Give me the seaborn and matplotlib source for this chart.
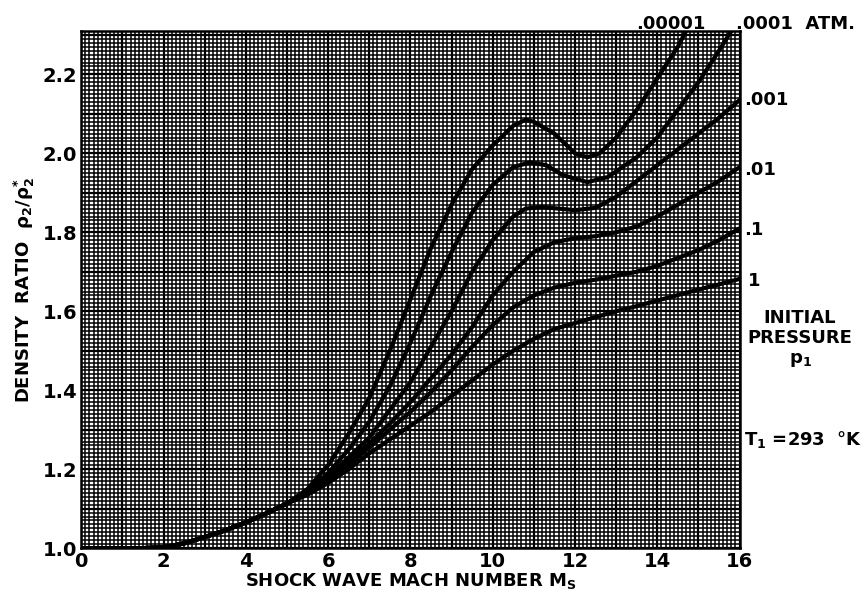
import numpy as np
import pandas as pd
import matplotlib
matplotlib.use("Agg")
import matplotlib.pyplot as plt
import seaborn as sns

# Mach number and density ratio for each initial pressure
mach_common = [0, 1, 1.5, 2, 2.5, 3, 3.5, 4, 4.5, 5]
rho_common = [1.0, 1.0, 1.0, 1.002, 1.012, 1.028, 1.045, 1.065, 1.088, 1.113]

mach_p5 = [5.5, 6, 6.5, 7, 7.5, 8, 8.5, 9, 9.5, 10, 10.5, 10.8, 11, 11.5, 12, 12.3, 12.6, 13, 13.5, 14, 14.5, 14.7]
rho_p5 = [1.15, 1.21, 1.29, 1.38, 1.50, 1.63, 1.76, 1.87, 1.96, 2.02, 2.07, 2.085, 2.08, 2.05, 2.0, 1.99, 2.0, 2.04, 2.11, 2.19, 2.27, 2.31]

mach_p4 = [5.5, 6, 6.5, 7, 7.5, 8, 8.5, 9, 9.5, 10, 10.5, 10.9, 11.3, 11.7, 12.3, 12.8, 13.5, 14, 14.5, 15, 15.5, 15.8]
rho_p4 = [1.145, 1.19, 1.25, 1.32, 1.41, 1.52, 1.64, 1.75, 1.85, 1.92, 1.965, 1.977, 1.97, 1.945, 1.927, 1.94, 1.99, 2.04, 2.11, 2.18, 2.26, 2.31]

mach_p3 = [5.5, 6, 6.5, 7, 7.5, 8, 8.5, 9, 9.5, 10, 10.5, 10.8, 11.2, 11.6, 12, 12.5, 13, 13.5, 14, 14.5, 15, 15.5, 16]
rho_p3 = [1.142, 1.18, 1.23, 1.28, 1.35, 1.42, 1.51, 1.60, 1.70, 1.78, 1.84, 1.86, 1.864, 1.86, 1.856, 1.862, 1.89, 1.93, 1.97, 2.01, 2.05, 2.09, 2.135]

mach_p2 = [5.5, 6, 6.5, 7, 7.5, 8, 8.5, 9, 9.5, 10, 10.5, 11, 11.5, 12, 12.5, 13, 13.5, 14, 14.5, 15, 15.5, 16]
rho_p2 = [1.14, 1.175, 1.22, 1.265, 1.315, 1.37, 1.43, 1.49, 1.56, 1.64, 1.70, 1.75, 1.775, 1.785, 1.79, 1.80, 1.815, 1.84, 1.87, 1.90, 1.93, 1.965]

mach_p1 = [5.5, 6, 6.5, 7, 7.5, 8, 8.5, 9, 9.5, 10, 10.5, 11, 11.5, 12, 12.5, 13, 13.5, 14, 14.5, 15, 15.5, 16]
rho_p1 = [1.138, 1.17, 1.21, 1.255, 1.30, 1.345, 1.395, 1.45, 1.51, 1.565, 1.61, 1.64, 1.66, 1.672, 1.68, 1.69, 1.70, 1.715, 1.735, 1.755, 1.78, 1.81]

mach_p0 = [5.5, 6, 6.5, 7, 7.5, 8, 8.5, 9, 9.5, 10, 10.5, 11, 11.5, 12, 12.5, 13, 13.5, 14, 14.5, 15, 15.5, 16]
rho_p0 = [1.135, 1.165, 1.2, 1.24, 1.275, 1.31, 1.345, 1.385, 1.425, 1.465, 1.50, 1.53, 1.555, 1.57, 1.585, 1.60, 1.613, 1.627, 1.641, 1.655, 1.668, 1.682]

pressure_names = [".00001", ".0001", ".001", ".01", ".1", "1"]
curve_mach = [mach_p5, mach_p4, mach_p3, mach_p2, mach_p1, mach_p0]
curve_rho = [rho_p5, rho_p4, rho_p3, rho_p2, rho_p1, rho_p0]

x_ticks = [0, 2, 4, 6, 8, 10, 12, 14, 16]
y_ticks = [1.0, 1.2, 1.4, 1.6, 1.8, 2.0, 2.2]

rows = []
for name, mm, rr in zip(pressure_names, curve_mach, curve_rho):
    for m, r in zip(mach_common + mm, rho_common + rr):
        rows.append({"pressure": name, "mach": m, "rho": r})
df = pd.DataFrame(rows)

sns.set_style("white")
plt.rcParams['font.family'] = ['DejaVu Sans']
plt.rcParams['font.weight'] = 'bold'
plt.rcParams['mathtext.default'] = 'bf'
for key in ['text.color', 'axes.labelcolor', 'xtick.color', 'ytick.color']:
    plt.rcParams[key] = 'black'

fig = plt.figure(figsize=(8.64, 6.07), dpi=100)
ax = fig.add_axes([0.094, 0.097, 0.762, 0.852])

# graph paper background
for x in np.arange(0, 16.01, 0.1):
    heavy = abs(x - round(x)) < 1e-6
    ax.axvline(x, color="black", lw=1.6 if heavy else 1.1, zorder=0)
for y in np.arange(1.0, 2.32, 0.01):
    heavy = abs(y * 10 - round(y * 10)) < 1e-6
    ax.axhline(y, color="black", lw=1.6 if heavy else 1.1, zorder=0)

sns.lineplot(data=df, x="mach", y="rho", hue="pressure", units="pressure",
             estimator=None, sort=False, palette=["black"] * 6, lw=3.0,
             legend=False, ax=ax, zorder=3)

ax.set_xlim(0, 16)
ax.set_ylim(1.0, 2.31)
ax.set_xticks(x_ticks)
ax.set_xticklabels([str(t) for t in x_ticks])
ax.set_yticks(y_ticks)
ax.set_yticklabels([f"{t:.1f}" for t in y_ticks])
ax.tick_params(labelsize=14, length=0, pad=3)
for s in ax.spines.values():
    s.set_linewidth(1.8)
    s.set_color("black")

ax.set_xlabel(r"SHOCK WAVE MACH NUMBER $\mathregular{M_S}$", fontsize=13,
              fontweight="bold", labelpad=0)
ax.set_ylabel(r"DENSITY  RATIO  $\rho_2/\rho_2^{*}$", fontsize=13,
              fontweight="bold", labelpad=4)

# labels to the right of the curves
tx = dict(transform=fig.transFigure, fontsize=13, va="center", fontweight="bold")
fig.text(636 / 864, 1 - 24 / 607, ".00001", **tx)
fig.text(736 / 864, 1 - 24 / 607, ".0001  ATM.", **tx)
fig.text(744 / 864, 1 - 100 / 607, ".001", **tx)
fig.text(744 / 864, 1 - 170 / 607, ".01", **tx)
fig.text(744 / 864, 1 - 230 / 607, ".1", **tx)
fig.text(748 / 864, 1 - 281 / 607, "1", **tx)
fig.text(800 / 864, 1 - 318 / 607, "INITIAL", ha="center", **tx)
fig.text(800 / 864, 1 - 338 / 607, "PRESSURE", ha="center", **tx)
fig.text(800 / 864, 1 - 360 / 607, r"$\mathregular{p_1}$", ha="center", **tx)
fig.text(744 / 864, 1 - 440 / 607, r"$\mathregular{T_1}$ =293  °K", **tx)

fig.savefig("out.png", dpi=100)
